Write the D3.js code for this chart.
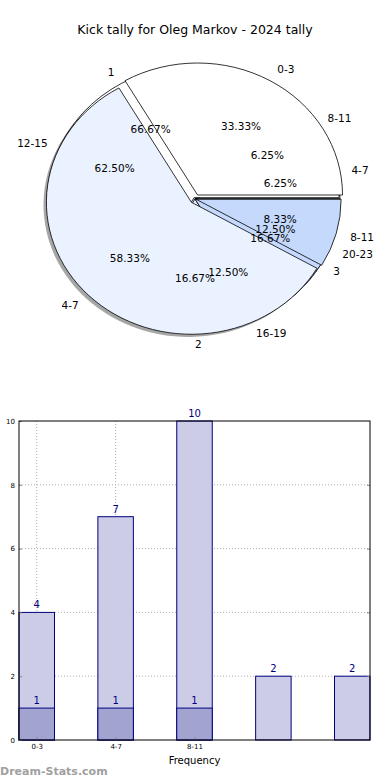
<!DOCTYPE html>
<html>
<head>
<meta charset="utf-8">
<script src="https://cdn.jsdelivr.net/npm/d3@7"></script>
<style>
  body { margin: 0; background: #fff; }
  text { font-family: "DejaVu Sans", sans-serif; }
</style>
</head>
<body>
<div id="chart"></div>
<script>
// pie data (three pies drawn on top of each other)
var rangeLabels = ["4-7", "8-11", "12-15", "16-19", "20-23"];
var rangeValues = [1, 1, 10, 2, 2];
var tallyLabels = ["1", "2", "3"];
var tallyValues = [4, 1, 1];
var freqLabels = ["0-3", "4-7", "8-11"];
var freqValues = [4, 7, 1];

// bar data
var barTicks = ["0-3", "4-7", "8-11"];
var barTotals = [4, 7, 10, 2, 2];
var barFirst = [1, 1, 1];

var width = 390, height = 780;
var svg = d3.select("#chart").append("svg")
    .attr("width", width)
    .attr("height", height);

svg.append("text")
    .attr("x", 195)
    .attr("y", 34)
    .attr("text-anchor", "middle")
    .style("font-size", "12.5px")
    .text("Kick tally for Oleg Markov - 2024 tally");

// ---- pies ----
var cx = 195, cy = 199, rx = 145, ry = 132;
var colors = ["#ffffff", "#ebf2ff", "#c5d9fd"];
var arc = d3.arc().innerRadius(0).outerRadius(1);

function layout(labels, values, explode) {
  var p = d3.pie().sort(null)
      .startAngle(Math.PI / 2)
      .endAngle(Math.PI / 2 - 2 * Math.PI)(values);
  var total = d3.sum(values);
  return p.map(function(d, i) {
    var mid = (d.startAngle + d.endAngle) / 2;
    var e = explode[i] || 0;
    return {
      arc: d, label: labels[i], color: colors[i % colors.length],
      pct: (100 * d.value / total).toFixed(2) + "%",
      mid: mid, ex: e * Math.sin(mid), ey: -e * Math.cos(mid)
    };
  });
}

var pies = [
  layout(rangeLabels, rangeValues, [0, 0, 0, 0, 0]),
  layout(tallyLabels, tallyValues, [0.012, 0, 0]),
  layout(freqLabels, freqValues, [0.035, 0.035, 0.008])
];

var pieG = svg.append("g");

// shadows first, under every wedge
pies.forEach(function(p) {
  pieG.selectAll(null)
    .data(p)
    .join("path")
      .attr("transform", d => `translate(${cx + (d.ex - 0.02) * rx},${cy + (d.ey + 0.02) * ry}) scale(${rx},${ry})`)
      .attr("d", d => arc(d.arc))
      .attr("fill", "#4d4d4d")
      .attr("fill-opacity", 0.5);
});

pies.forEach(function(p) {
  pieG.selectAll(null)
    .data(p)
    .join("path")
      .attr("transform", d => `translate(${cx + d.ex * rx},${cy + d.ey * ry}) scale(${rx},${ry})`)
      .attr("d", d => arc(d.arc))
      .attr("fill", d => d.color)
      .attr("stroke", "#000")
      .attr("stroke-width", 0.8)
      .attr("vector-effect", "non-scaling-stroke");
});

pies.forEach(function(p) {
  pieG.selectAll(null)
    .data(p)
    .join("text")
      .attr("x", d => cx + rx * (d.ex + 1.1 * Math.sin(d.mid)))
      .attr("y", d => cy + ry * (d.ey - 1.1 * Math.cos(d.mid)))
      .attr("dy", "0.35em")
      .attr("text-anchor", d => Math.sin(d.mid) > -0.01 ? "start" : "end")
      .style("font-size", "10.5px")
      .text(d => d.label);
  pieG.selectAll(null)
    .data(p)
    .join("text")
      .attr("x", d => cx + rx * (d.ex + 0.6 * Math.sin(d.mid)))
      .attr("y", d => cy + ry * (d.ey - 0.6 * Math.cos(d.mid)))
      .attr("dy", "0.35em")
      .attr("text-anchor", "middle")
      .style("font-size", "10.5px")
      .text(d => d.pct);
});

// ---- bars ----
var plotLeft = 19, plotRight = 370, plotTop = 421, plotBottom = 740;
var x = d3.scaleLinear().domain([-0.225, 4.225]).range([plotLeft, plotRight]);
var y = d3.scaleLinear().domain([0, 10]).range([plotBottom, plotTop]);
var bw = x(0.45) - x(0);

var g = svg.append("g");

// grid
g.selectAll(null)
  .data([2, 4, 6, 8])
  .join("line")
    .attr("x1", plotLeft).attr("x2", plotRight)
    .attr("y1", d => y(d)).attr("y2", d => y(d))
    .attr("stroke", "#b0b0b0")
    .attr("stroke-dasharray", "1,2");

g.selectAll(null)
  .data(barTicks)
  .join("line")
    .attr("x1", (d, i) => x(i)).attr("x2", (d, i) => x(i))
    .attr("y1", plotTop).attr("y2", plotBottom)
    .attr("stroke", "#b0b0b0")
    .attr("stroke-dasharray", "1,2");

g.selectAll(null)
  .data(barTotals)
  .join("rect")
    .attr("x", (d, i) => x(i) - bw / 2)
    .attr("y", d => y(d))
    .attr("width", bw)
    .attr("height", d => plotBottom - y(d))
    .attr("fill", "#ccccE6")
    .attr("stroke", "#000080")
    .attr("stroke-width", 1);

g.selectAll(null)
  .data(barFirst)
  .join("rect")
    .attr("x", (d, i) => x(i) - bw / 2)
    .attr("y", d => y(d))
    .attr("width", bw)
    .attr("height", d => plotBottom - y(d))
    .attr("fill", "#a3a3d0")
    .attr("stroke", "#000080")
    .attr("stroke-width", 1);

// value labels
g.selectAll(null)
  .data(barTotals)
  .join("text")
    .attr("x", (d, i) => x(i))
    .attr("y", d => y(d) - 4)
    .attr("text-anchor", "middle")
    .attr("fill", "#000080")
    .style("font-size", "10px")
    .text(d => d);

g.selectAll(null)
  .data(barFirst)
  .join("text")
    .attr("x", (d, i) => x(i))
    .attr("y", d => y(d) - 4)
    .attr("text-anchor", "middle")
    .attr("fill", "#000080")
    .style("font-size", "10px")
    .text(d => d);

// axes
var yAxis = g.append("g")
    .attr("transform", `translate(${plotLeft},0)`)
    .call(d3.axisLeft(y).tickValues([0, 2, 4, 6, 8, 10]).tickSize(-3).tickPadding(4));
var xAxis = g.append("g")
    .attr("transform", `translate(0,${plotBottom})`)
    .call(d3.axisBottom(x).tickValues([0, 1, 2]).tickFormat(i => barTicks[i]).tickSize(-3).tickPadding(4));
g.append("g")
    .attr("transform", `translate(${plotRight},0)`)
    .call(d3.axisRight(y).tickValues([2, 4, 6, 8]).tickSize(-3).tickFormat(""));

[yAxis, xAxis].forEach(function(a) {
  a.selectAll("text").style("font-size", "7px").attr("fill", "#000");
});
g.selectAll(".tick line").attr("stroke", "#888");
g.selectAll(".domain").remove();

g.append("rect")
    .attr("x", plotLeft).attr("y", plotTop)
    .attr("width", plotRight - plotLeft).attr("height", plotBottom - plotTop)
    .attr("fill", "none")
    .attr("stroke", "#000")
    .attr("stroke-width", 1);

g.append("text")
    .attr("x", (plotLeft + plotRight) / 2)
    .attr("y", 764)
    .attr("text-anchor", "middle")
    .style("font-size", "10px")
    .text("Frequency");

g.append("text")
    .attr("transform", "translate(-1,580) rotate(-90)")
    .attr("text-anchor", "middle")
    .style("font-size", "10px")
    .text("Total Kicks");

svg.append("text")
    .attr("x", 0)
    .attr("y", 775)
    .attr("fill", "#a0a0a0")
    .style("font-size", "11px")
    .style("font-weight", "bold")
    .text("Dream-Stats.com");
</script>
</body>
</html>
